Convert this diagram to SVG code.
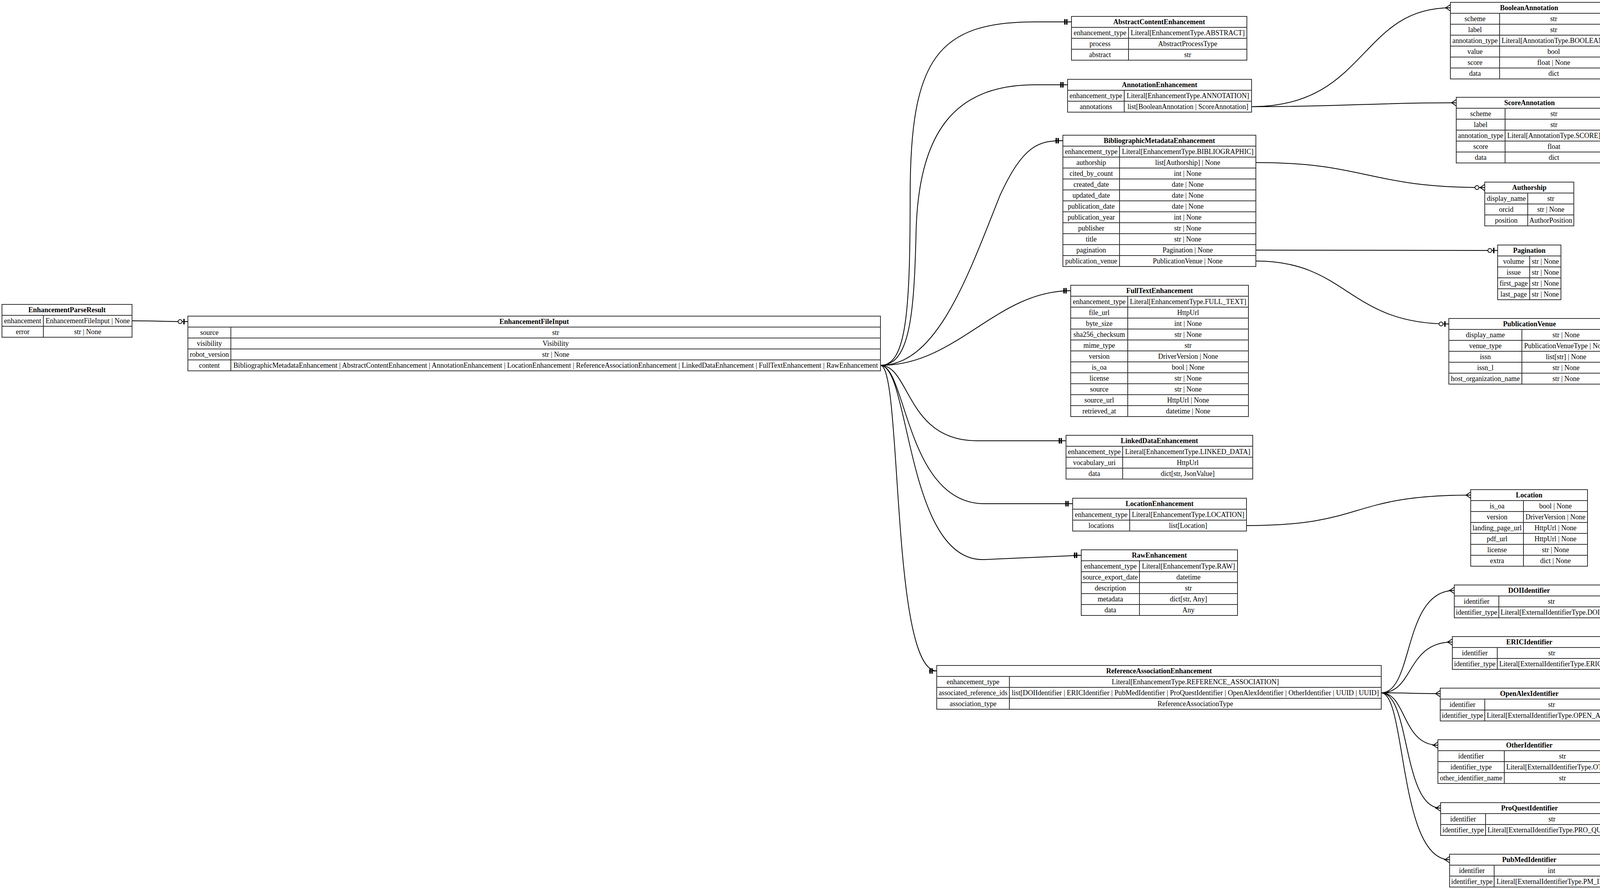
<svg xmlns="http://www.w3.org/2000/svg" xmlns:xlink="http://www.w3.org/1999/xlink" width="4153" height="2275" viewBox="0 0 4153 2275">
<style>
text{font-family:"Liberation Serif","Times New Roman",serif;font-size:18px;text-anchor:middle;fill:#000}
.h{font-weight:bold}
.n rect,.n path{fill:none;stroke:#333;stroke-width:2}
.n rect{fill:#fff}
#edges path{fill:none;stroke:#000;stroke-width:2}
.m line{stroke:#000;stroke-width:2}
.m .b{stroke-width:3.5}
.m circle{fill:#fff;stroke:#000;stroke-width:2}
</style>
<defs>
<g id="one" class="m"><line x1="-20" y1="0" x2="0" y2="0"/><line class="b" x1="-17" y1="-7" x2="-17" y2="7"/><line class="b" x1="-12" y1="-7" x2="-12" y2="7"/></g>
<g id="zone" class="m"><line x1="-25" y1="0" x2="0" y2="0"/><circle cx="-20" cy="0" r="5"/><line class="b" x1="-10" y1="-7" x2="-10" y2="7"/></g>
<g id="many" class="m"><line x1="-14" y1="0" x2="0" y2="0"/><line x1="-12" y1="0" x2="0" y2="-8"/><line x1="-12" y1="0" x2="0" y2="8"/></g>
<g id="zmany" class="m"><line x1="-25" y1="0" x2="0" y2="0"/><circle cx="-20" cy="0" r="5"/><line x1="-12" y1="0" x2="0" y2="-8"/><line x1="-12" y1="0" x2="0" y2="8"/></g>
</defs>
<rect width="4153" height="2275" fill="#fff"/>
<g id="edges">
<path d="M338,821 C400,821 420,823 481,823"/>
<path d="M2254,935 C2320,935 2330,800 2330,500 C2330,150 2400,56 2650,56 H2743"/>
<path d="M2254,935 C2330,935 2340,800 2345,600 C2350,330 2450,217 2650,217 H2733"/>
<path d="M2254,935 C2400,935 2480,700 2560,500 C2620,370 2660,360 2721,360"/>
<path d="M2254,935 C2450,935 2550,744 2741,744"/>
<path d="M2254,935 C2330,935 2320,1128 2500,1128 H2729"/>
<path d="M2254,935 C2320,935 2320,1289 2520,1289 H2746"/>
<path d="M2254,935 C2330,935 2320,1440 2520,1432 L2768,1421"/>
<path d="M2254,935 C2310,935 2280,1717 2398,1717"/>
<path d="M3204,273 C3500,273 3480,20 3713,20"/>
<path d="M3204,273 C3450,273 3500,263 3728,263"/>
<path d="M3215,416 C3500,416 3500,480 3801,480"/>
<path d="M3215,640 L3834,641"/>
<path d="M3215,668 C3450,668 3450,829 3709,829"/>
<path d="M3191,1345 C3500,1345 3450,1267 3765,1267"/>
<path d="M3536,1773 C3620,1773 3590,1511 3723,1511"/>
<path d="M3536,1773 C3620,1773 3600,1643 3718,1643"/>
<path d="M3536,1773 C3600,1773 3620,1775 3687,1775"/>
<path d="M3536,1773 C3600,1773 3590,1907 3681,1907"/>
<path d="M3536,1773 C3610,1773 3590,2068 3688,2068"/>
<path d="M3536,1773 C3600,1773 3580,2200 3711,2200"/>
</g>

<g id="EnhancementParseResult" class="n">
<rect x="5" y="779" width="333" height="84"/>
<path d="M5,807H338M5,835H338M111,807V863"/>
<text class="h" x="171.5" y="799">EnhancementParseResult</text>
<text x="58" y="827">enhancement</text><text x="224.5" y="827">EnhancementFileInput | None</text>
<text x="58" y="855">error</text><text x="224.5" y="855">str | None</text>
</g>

<g id="EnhancementFileInput" class="n">
<rect x="481" y="809" width="1773" height="140"/>
<path d="M481,837H2254M481,865H2254M481,893H2254M481,921H2254M591,837V949"/>
<text class="h" x="1367.5" y="829">EnhancementFileInput</text>
<text x="536" y="857">source</text><text x="1422.5" y="857">str</text>
<text x="536" y="885">visibility</text><text x="1422.5" y="885">Visibility</text>
<text x="536" y="913">robot_version</text><text x="1422.5" y="913">str | None</text>
<text x="536" y="941">content</text><text x="1422.5" y="941" textLength="1650" lengthAdjust="spacingAndGlyphs">BibliographicMetadataEnhancement | AbstractContentEnhancement | AnnotationEnhancement | LocationEnhancement | ReferenceAssociationEnhancement | LinkedDataEnhancement | FullTextEnhancement | RawEnhancement</text>
</g>

<g id="AbstractContentEnhancement" class="n">
<rect x="2743" y="42" width="449" height="112"/>
<path d="M2743,70H3192M2743,98H3192M2743,126H3192M2889,70V154"/>
<text class="h" x="2967.5" y="62">AbstractContentEnhancement</text>
<text x="2816" y="90">enhancement_type</text><text x="3040.5" y="90">Literal[EnhancementType.ABSTRACT]</text>
<text x="2816" y="118">process</text><text x="3040.5" y="118">AbstractProcessType</text>
<text x="2816" y="146">abstract</text><text x="3040.5" y="146">str</text>
</g>

<g id="AnnotationEnhancement" class="n">
<rect x="2733" y="203" width="471" height="84"/>
<path d="M2733,231H3204M2733,259H3204M2878,231V287"/>
<text class="h" x="2968.5" y="223">AnnotationEnhancement</text>
<text x="2805.5" y="251">enhancement_type</text><text x="3041" y="251">Literal[EnhancementType.ANNOTATION]</text>
<text x="2805.5" y="279">annotations</text><text x="3041" y="279">list[BooleanAnnotation | ScoreAnnotation]</text>
</g>

<g id="BibliographicMetadataEnhancement" class="n">
<rect x="2721" y="346" width="494" height="336"/>
<path d="M2721,374H3215M2721,402H3215M2721,430H3215M2721,458H3215M2721,486H3215M2721,514H3215M2721,542H3215M2721,570H3215M2721,598H3215M2721,626H3215M2721,654H3215M2866,374V682"/>
<text class="h" x="2968" y="366">BibliographicMetadataEnhancement</text>
<text x="2793.5" y="394">enhancement_type</text><text x="3040.5" y="394">Literal[EnhancementType.BIBLIOGRAPHIC]</text>
<text x="2793.5" y="422">authorship</text><text x="3040.5" y="422">list[Authorship] | None</text>
<text x="2793.5" y="450">cited_by_count</text><text x="3040.5" y="450">int | None</text>
<text x="2793.5" y="478">created_date</text><text x="3040.5" y="478">date | None</text>
<text x="2793.5" y="506">updated_date</text><text x="3040.5" y="506">date | None</text>
<text x="2793.5" y="534">publication_date</text><text x="3040.5" y="534">date | None</text>
<text x="2793.5" y="562">publication_year</text><text x="3040.5" y="562">int | None</text>
<text x="2793.5" y="590">publisher</text><text x="3040.5" y="590">str | None</text>
<text x="2793.5" y="618">title</text><text x="3040.5" y="618">str | None</text>
<text x="2793.5" y="646">pagination</text><text x="3040.5" y="646">Pagination | None</text>
<text x="2793.5" y="674">publication_venue</text><text x="3040.5" y="674">PublicationVenue | None</text>
</g>

<g id="FullTextEnhancement" class="n">
<rect x="2741" y="730" width="455" height="336"/>
<path d="M2741,758H3196M2741,786H3196M2741,814H3196M2741,842H3196M2741,870H3196M2741,898H3196M2741,926H3196M2741,954H3196M2741,982H3196M2741,1010H3196M2741,1038H3196M2887,758V1066"/>
<text class="h" x="2968.5" y="750">FullTextEnhancement</text>
<text x="2814" y="778">enhancement_type</text><text x="3041.5" y="778">Literal[EnhancementType.FULL_TEXT]</text>
<text x="2814" y="806">file_url</text><text x="3041.5" y="806">HttpUrl</text>
<text x="2814" y="834">byte_size</text><text x="3041.5" y="834">int | None</text>
<text x="2814" y="862">sha256_checksum</text><text x="3041.5" y="862">str | None</text>
<text x="2814" y="890">mime_type</text><text x="3041.5" y="890">str</text>
<text x="2814" y="918">version</text><text x="3041.5" y="918">DriverVersion | None</text>
<text x="2814" y="946">is_oa</text><text x="3041.5" y="946">bool | None</text>
<text x="2814" y="974">license</text><text x="3041.5" y="974">str | None</text>
<text x="2814" y="1002">source</text><text x="3041.5" y="1002">str | None</text>
<text x="2814" y="1030">source_url</text><text x="3041.5" y="1030">HttpUrl | None</text>
<text x="2814" y="1058">retrieved_at</text><text x="3041.5" y="1058">datetime | None</text>
</g>

<g id="LinkedDataEnhancement" class="n">
<rect x="2729" y="1114" width="478" height="112"/>
<path d="M2729,1142H3207M2729,1170H3207M2729,1198H3207M2874,1142V1226"/>
<text class="h" x="2968" y="1134">LinkedDataEnhancement</text>
<text x="2801.5" y="1162">enhancement_type</text><text x="3040.5" y="1162">Literal[EnhancementType.LINKED_DATA]</text>
<text x="2801.5" y="1190">vocabulary_uri</text><text x="3040.5" y="1190">HttpUrl</text>
<text x="2801.5" y="1218">data</text><text x="3040.5" y="1218">dict[str, JsonValue]</text>
</g>

<g id="LocationEnhancement" class="n">
<rect x="2746" y="1275" width="445" height="84"/>
<path d="M2746,1303H3191M2746,1331H3191M2892,1303V1359"/>
<text class="h" x="2968.5" y="1295">LocationEnhancement</text>
<text x="2819" y="1323">enhancement_type</text><text x="3041.5" y="1323">Literal[EnhancementType.LOCATION]</text>
<text x="2819" y="1351">locations</text><text x="3041.5" y="1351">list[Location]</text>
</g>

<g id="RawEnhancement" class="n">
<rect x="2768" y="1407" width="400" height="168"/>
<path d="M2768,1435H3168M2768,1463H3168M2768,1491H3168M2768,1519H3168M2768,1547H3168M2917,1435V1575"/>
<text class="h" x="2968" y="1427">RawEnhancement</text>
<text x="2842.5" y="1455">enhancement_type</text><text x="3042.5" y="1455">Literal[EnhancementType.RAW]</text>
<text x="2842.5" y="1483">source_export_date</text><text x="3042.5" y="1483">datetime</text>
<text x="2842.5" y="1511">description</text><text x="3042.5" y="1511">str</text>
<text x="2842.5" y="1539">metadata</text><text x="3042.5" y="1539">dict[str, Any]</text>
<text x="2842.5" y="1567">data</text><text x="3042.5" y="1567">Any</text>
</g>

<g id="ReferenceAssociationEnhancement" class="n">
<rect x="2398" y="1703" width="1138" height="112"/>
<path d="M2398,1731H3536M2398,1759H3536M2398,1787H3536M2584,1731V1815"/>
<text class="h" x="2967" y="1723">ReferenceAssociationEnhancement</text>
<text x="2491" y="1751">enhancement_type</text><text x="3060" y="1751">Literal[EnhancementType.REFERENCE_ASSOCIATION]</text>
<text x="2491" y="1779" textLength="176" lengthAdjust="spacingAndGlyphs">associated_reference_ids</text><text x="3060" y="1779" textLength="940" lengthAdjust="spacingAndGlyphs">list[DOIIdentifier | ERICIdentifier | PubMedIdentifier | ProQuestIdentifier | OpenAlexIdentifier | OtherIdentifier | UUID | UUID]</text>
<text x="2491" y="1807">association_type</text><text x="3060" y="1807">ReferenceAssociationType</text>
</g>

<g id="BooleanAnnotation" class="n">
<rect x="3713" y="6" width="403" height="196"/>
<path d="M3713,34H4116M3713,62H4116M3713,90H4116M3713,118H4116M3713,146H4116M3713,174H4116M3839,34V202"/>
<text class="h" x="3914.5" y="26">BooleanAnnotation</text>
<text x="3776" y="54">scheme</text><text x="3977.5" y="54">str</text>
<text x="3776" y="82">label</text><text x="3977.5" y="82">str</text>
<text x="3776" y="110">annotation_type</text><text x="3977.5" y="110">Literal[AnnotationType.BOOLEAN]</text>
<text x="3776" y="138">value</text><text x="3977.5" y="138">bool</text>
<text x="3776" y="166">score</text><text x="3977.5" y="166">float | None</text>
<text x="3776" y="194">data</text><text x="3977.5" y="194">dict</text>
</g>

<g id="ScoreAnnotation" class="n">
<rect x="3728" y="249" width="375" height="168"/>
<path d="M3728,277H4103M3728,305H4103M3728,333H4103M3728,361H4103M3728,389H4103M3853,277V417"/>
<text class="h" x="3915.5" y="269">ScoreAnnotation</text>
<text x="3790.5" y="297">scheme</text><text x="3978" y="297">str</text>
<text x="3790.5" y="325">label</text><text x="3978" y="325">str</text>
<text x="3790.5" y="353">annotation_type</text><text x="3978" y="353">Literal[AnnotationType.SCORE]</text>
<text x="3790.5" y="381">score</text><text x="3978" y="381">float</text>
<text x="3790.5" y="409">data</text><text x="3978" y="409">dict</text>
</g>

<g id="Authorship" class="n">
<rect x="3801" y="466" width="228" height="112"/>
<path d="M3801,494H4029M3801,522H4029M3801,550H4029M3911,494V578"/>
<text class="h" x="3915" y="486">Authorship</text>
<text x="3856" y="514">display_name</text><text x="3970" y="514">str</text>
<text x="3856" y="542">orcid</text><text x="3970" y="542">str | None</text>
<text x="3856" y="570">position</text><text x="3970" y="570">AuthorPosition</text>
</g>

<g id="Pagination" class="n">
<rect x="3834" y="627" width="162" height="140"/>
<path d="M3834,655H3996M3834,683H3996M3834,711H3996M3834,739H3996M3916,655V767"/>
<text class="h" x="3915" y="647">Pagination</text>
<text x="3875" y="675">volume</text><text x="3956" y="675">str | None</text>
<text x="3875" y="703">issue</text><text x="3956" y="703">str | None</text>
<text x="3875" y="731">first_page</text><text x="3956" y="731">str | None</text>
<text x="3875" y="759">last_page</text><text x="3956" y="759">str | None</text>
</g>

<g id="PublicationVenue" class="n">
<rect x="3709" y="815" width="413" height="168"/>
<path d="M3709,843H4122M3709,871H4122M3709,899H4122M3709,927H4122M3709,955H4122M3896,843V983"/>
<text class="h" x="3915.5" y="835">PublicationVenue</text>
<text x="3802.5" y="863">display_name</text><text x="4009" y="863">str | None</text>
<text x="3802.5" y="891">venue_type</text><text x="4009" y="891">PublicationVenueType | None</text>
<text x="3802.5" y="919">issn</text><text x="4009" y="919">list[str] | None</text>
<text x="3802.5" y="947">issn_l</text><text x="4009" y="947">str | None</text>
<text x="3802.5" y="975">host_organization_name</text><text x="4009" y="975">str | None</text>
</g>

<g id="Location" class="n">
<rect x="3765" y="1253" width="299" height="196"/>
<path d="M3765,1281H4064M3765,1309H4064M3765,1337H4064M3765,1365H4064M3765,1393H4064M3765,1421H4064M3900,1281V1449"/>
<text class="h" x="3914.5" y="1273">Location</text>
<text x="3832.5" y="1301">is_oa</text><text x="3982" y="1301">bool | None</text>
<text x="3832.5" y="1329">version</text><text x="3982" y="1329">DriverVersion | None</text>
<text x="3832.5" y="1357">landing_page_url</text><text x="3982" y="1357">HttpUrl | None</text>
<text x="3832.5" y="1385">pdf_url</text><text x="3982" y="1385">HttpUrl | None</text>
<text x="3832.5" y="1413">license</text><text x="3982" y="1413">str | None</text>
<text x="3832.5" y="1441">extra</text><text x="3982" y="1441">dict | None</text>
</g>

<g id="DOIIdentifier" class="n">
<rect x="3723" y="1497" width="383" height="84"/>
<path d="M3723,1525H4106M3723,1553H4106M3837,1525V1581"/>
<text class="h" x="3914.5" y="1517">DOIIdentifier</text>
<text x="3780" y="1545">identifier</text><text x="3971.5" y="1545">str</text>
<text x="3780" y="1573">identifier_type</text><text x="3971.5" y="1573">Literal[ExternalIdentifierType.DOI]</text>
</g>

<g id="ERICIdentifier" class="n">
<rect x="3718" y="1629" width="394" height="84"/>
<path d="M3718,1657H4112M3718,1685H4112M3833,1657V1713"/>
<text class="h" x="3915" y="1649">ERICIdentifier</text>
<text x="3775.5" y="1677">identifier</text><text x="3972.5" y="1677">str</text>
<text x="3775.5" y="1705">identifier_type</text><text x="3972.5" y="1705">Literal[ExternalIdentifierType.ERIC]</text>
</g>

<g id="OpenAlexIdentifier" class="n">
<rect x="3687" y="1761" width="456" height="84"/>
<path d="M3687,1789H4143M3687,1817H4143M3801,1789V1845"/>
<text class="h" x="3915" y="1781">OpenAlexIdentifier</text>
<text x="3744" y="1809">identifier</text><text x="3972" y="1809">str</text>
<text x="3744" y="1837">identifier_type</text><text x="3972" y="1837">Literal[ExternalIdentifierType.OPEN_ALEX]</text>
</g>

<g id="OtherIdentifier" class="n">
<rect x="3681" y="1893" width="468" height="112"/>
<path d="M3681,1921H4149M3681,1949H4149M3681,1977H4149M3851,1921V2005"/>
<text class="h" x="3915" y="1913">OtherIdentifier</text>
<text x="3766" y="1941">identifier</text><text x="4000" y="1941">str</text>
<text x="3766" y="1969">identifier_type</text><text x="4000" y="1969">Literal[ExternalIdentifierType.OTHER]</text>
<text x="3766" y="1997">other_identifier_name</text><text x="4000" y="1997">str</text>
</g>

<g id="ProQuestIdentifier" class="n">
<rect x="3688" y="2054" width="455" height="84"/>
<path d="M3688,2082H4143M3688,2110H4143M3803,2082V2138"/>
<text class="h" x="3915.5" y="2074">ProQuestIdentifier</text>
<text x="3745.5" y="2102">identifier</text><text x="3973" y="2102">str</text>
<text x="3745.5" y="2130">identifier_type</text><text x="3973" y="2130">Literal[ExternalIdentifierType.PRO_QUEST]</text>
</g>

<g id="PubMedIdentifier" class="n">
<rect x="3711" y="2186" width="408" height="84"/>
<path d="M3711,2214H4119M3711,2242H4119M3825,2214V2270"/>
<text class="h" x="3915" y="2206">PubMedIdentifier</text>
<text x="3768" y="2234">identifier</text><text x="3972" y="2234">int</text>
<text x="3768" y="2262">identifier_type</text><text x="3972" y="2262">Literal[ExternalIdentifierType.PM_ID]</text>
</g>

<g id="markers">
<use xlink:href="#zone" x="481" y="823"/>
<use xlink:href="#one" x="2743" y="56"/>
<use xlink:href="#one" x="2733" y="217"/>
<use xlink:href="#one" x="2721" y="360"/>
<use xlink:href="#one" x="2741" y="744"/>
<use xlink:href="#one" x="2729" y="1128"/>
<use xlink:href="#one" x="2746" y="1289"/>
<use xlink:href="#one" x="2768" y="1421"/>
<use xlink:href="#one" x="2398" y="1717"/>
<use xlink:href="#many" x="3713" y="20"/>
<use xlink:href="#many" x="3728" y="263"/>
<use xlink:href="#zmany" x="3801" y="480"/>
<use xlink:href="#zone" x="3834" y="641"/>
<use xlink:href="#zone" x="3709" y="829"/>
<use xlink:href="#many" x="3765" y="1267"/>
<use xlink:href="#many" x="3723" y="1511"/>
<use xlink:href="#many" x="3718" y="1643"/>
<use xlink:href="#many" x="3687" y="1775"/>
<use xlink:href="#many" x="3681" y="1907"/>
<use xlink:href="#many" x="3688" y="2068"/>
<use xlink:href="#many" x="3711" y="2200"/>
</g>
</svg>
